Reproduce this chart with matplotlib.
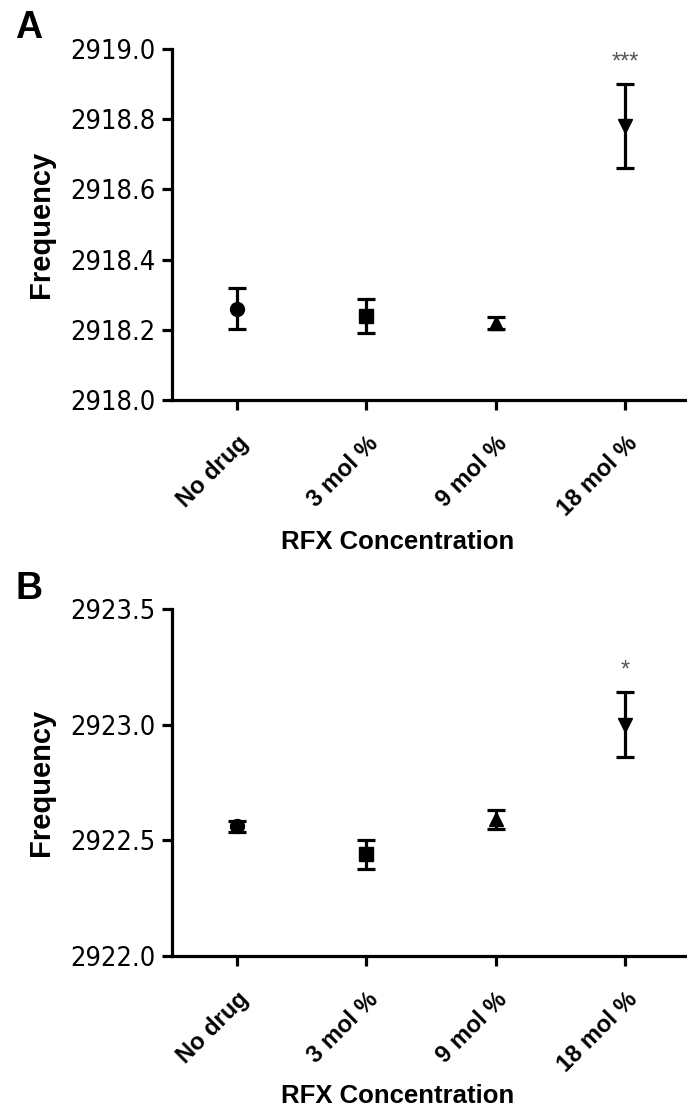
import matplotlib
matplotlib.use("Agg")
import matplotlib.pyplot as plt
from matplotlib import font_manager

# -------------------------------
# Data
# -------------------------------
groups = ["No drug", "3 mol %", "9 mol %", "18 mol %"]
markers = ["o", "s", "^", "v"]

freq_a = [2918.26, 2918.24, 2918.22, 2918.78]
err_a = [0.058, 0.049, 0.017, 0.12]

freq_b = [2922.56, 2922.44, 2922.59, 2923.00]
err_b = [0.022, 0.063, 0.04, 0.14]

stars_a = "***"
stars_b = "*"

# -------------------------------
# Figure
# -------------------------------
fig = plt.figure(figsize=(6.87, 11.08), dpi=100)

# narrow face for the numbers on the y axis, if one is installed
names = {f.name for f in font_manager.fontManager.ttflist}
narrow = [n for n in ["Liberation Sans Narrow", "DejaVu Sans Condensed"]
          if n in names] + ["DejaVu Sans"]
bold_font = ["Liberation Sans", "DejaVu Sans"]


def draw_panel(ax, values, errors, stars, ylim, yticks, letter):
    for i, (v, e) in enumerate(zip(values, errors)):
        ax.errorbar(i, v, yerr=e, fmt=markers[i], color="black",
                    markersize=10, elinewidth=2.3, capsize=6.5, capthick=2.3)
    # significance marks over last group
    ax.text(3, values[3] + errors[3] + (ylim[1] - ylim[0]) * 0.03, stars,
            ha="center", va="bottom", color="#555555", fontsize=17,
            family=bold_font)

    ax.set_xlim(-0.5, 3.5)
    ax.set_ylim(*ylim)
    ax.set_yticks(yticks)
    ax.set_yticklabels([f"{t:.1f}" for t in yticks], family=narrow,
                       fontsize=19.5, fontstretch="condensed")
    ax.set_xticks(range(len(groups)))
    ax.set_xticklabels(groups, rotation=45, ha="right",
                       rotation_mode="anchor", fontsize=17,
                       fontweight="bold", family=bold_font)

    ax.spines["top"].set_visible(False)
    ax.spines["right"].set_visible(False)
    ax.spines["left"].set_linewidth(2.3)
    ax.spines["bottom"].set_linewidth(2.3)
    ax.tick_params(width=2.3, length=7, pad=5)
    ax.tick_params(axis="x", pad=16)

    ax.set_ylabel("Frequency", fontsize=21, fontweight="bold",
                  family=bold_font)
    ax.yaxis.set_label_coords(-0.225, 0.5)
    ax.set_xlabel("RFX Concentration", fontsize=18.5, fontweight="bold",
                  family=bold_font)
    ax.xaxis.set_label_coords(0.436, -0.37)
    ax.text(-0.303, 1.11, letter, transform=ax.transAxes, fontsize=27,
            fontweight="bold", family=bold_font, ha="left", va="top")


ax_a = fig.add_axes([0.2504, 0.639, 0.754, 0.3168])
draw_panel(ax_a, freq_a, err_a, stars_a, (2918.0, 2919.0),
           [2918.0, 2918.2, 2918.4, 2918.6, 2918.8, 2919.0], "A")

ax_b = fig.add_axes([0.2504, 0.1372, 0.754, 0.3132])
draw_panel(ax_b, freq_b, err_b, stars_b, (2922.0, 2923.5),
           [2922.0, 2922.5, 2923.0, 2923.5], "B")

plt.savefig("out.png", dpi=100)
plt.close()
